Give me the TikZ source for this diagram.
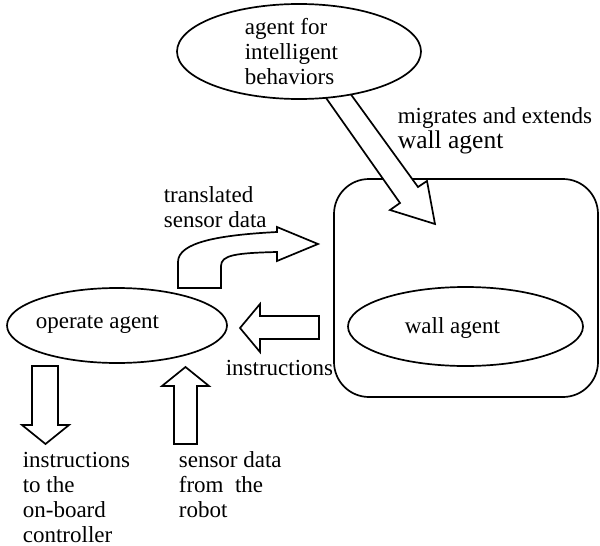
\documentclass[tikz,border=0pt]{standalone}
\usepackage{fontspec}
\setmainfont{Liberation Serif}
\usetikzlibrary{shapes.geometric}

\begin{document}
\begin{tikzpicture}[x=1pt,y=-1pt,line width=1.7pt,
  agent/.style={draw,ellipse,fill=white,inner sep=0pt},
  lbl/.style={inner sep=0pt,anchor=base west,align=left,font=\fontsize{23}{25}\selectfont},
  blockarrow/.style={draw,fill=white,line join=miter}]
\useasboundingbox (0,0) rectangle (600,546);

% wall agent in its box
\node [draw,rounded corners=35pt,minimum width=264pt,minimum height=218pt] (box) at (466,288) {};
\node [agent,minimum width=235pt,minimum height=79pt] (wall) at (465.5,326.5) {};
\node [lbl] (walltxt) at (404,333) {wall agent};

% migrates and extends (labels sit on the baseline of their last line)
\draw [blockarrow] (312,78) -- (339,78) -- (418,187) -- (427,181) -- (435,224) -- (390,210) -- (400,203) -- cycle;
\node [agent,minimum width=244pt,minimum height=95pt] (intel) at (299,51.5) {};
\node [lbl] (inteltxt) at (244,84) {agent for\\intelligent\\behaviors};
\node [lbl] (migrate) at (397,148) {migrates and extends\\{\fontsize{25.5}{26}\selectfont wall agent}};

% operate agent
\node [agent,minimum width=220pt,minimum height=75pt] (oper) at (117,325.5) {};
\node [lbl] (opertxt) at (35,328) {operate agent};

% translated sensor data
\draw [blockarrow] (178,288) -- (178,262) .. controls (178,242) and (220,235) .. (277,232)
  -- (277,227) -- (318,244) -- (277,261) -- (277,252) .. controls (236,253) and (221,255) .. (221,266)
  -- (221,288) -- cycle;
\node [lbl] (transl) at (163,227) {translated\\sensor data};

% instructions
\draw [blockarrow] (319,316) -- (260,316) -- (260,304) -- (240,328) -- (260,352) -- (260,339) -- (319,339) -- cycle;
\node [lbl] (instr) at (225,375) {instructions};

% to and from the robot
\draw [blockarrow] (32,366) -- (58,366) -- (58,425) -- (69,425) -- (45.5,444) -- (22,425) -- (32,425) -- cycle;
\draw [blockarrow] (174,444) -- (174,386) -- (162,386) -- (185.5,367) -- (209,386) -- (197,386) -- (197,444) -- cycle;
\node [lbl] (ctrl) at (22,542) {instructions\\to the\\on-board\\controller};
\node [lbl] (sensor) at (178,517) {sensor data\\from\ \ the\\robot};
\end{tikzpicture}
\end{document}
